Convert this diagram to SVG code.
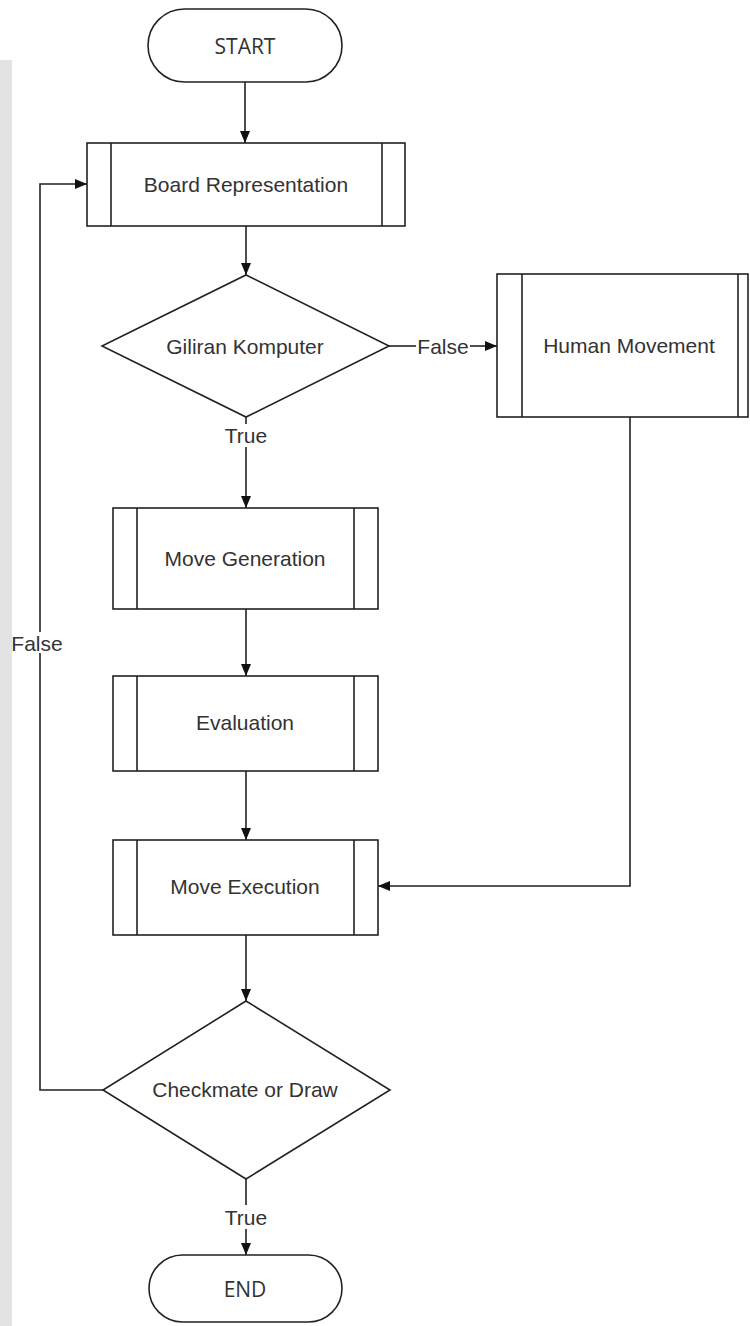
<svg xmlns="http://www.w3.org/2000/svg" width="750" height="1326" viewBox="0 0 750 1326">
<style>
.shape{fill:#fff;stroke:#222;stroke-width:1.6}
.line{fill:none;stroke:#222;stroke-width:1.6}
.t{font-family:"Liberation Sans",Arial,sans-serif;font-size:21px;fill:#333;text-anchor:middle;dominant-baseline:central}
.term{font-family:"Open Sans","DejaVu Sans",sans-serif;font-size:21px;font-weight:500;fill:#333;text-anchor:middle;dominant-baseline:central}
.lbl{font-family:"Liberation Sans",Arial,sans-serif;font-size:21px;fill:#333;text-anchor:middle;dominant-baseline:central}
</style>
<defs>
<marker id="arr" markerUnits="userSpaceOnUse" markerWidth="12" markerHeight="10" refX="12" refY="5" orient="auto">
<path d="M0,0 L12,5 L0,10 Z" fill="#111"/>
</marker>
</defs>
<rect x="0" y="0" width="750" height="1326" fill="#fff"/>
<rect x="0" y="60" width="12" height="1266" fill="#e3e3e3"/>
<g id="connectors">
<line class="line" x1="245" y1="82" x2="245" y2="143" marker-end="url(#arr)"/>
<line class="line" x1="246" y1="226" x2="246" y2="275" marker-end="url(#arr)"/>
<line class="line" x1="389" y1="346" x2="416" y2="346"/>
<text class="lbl" x="443" y="346">False</text>
<line class="line" x1="470" y1="346" x2="497" y2="346" marker-end="url(#arr)"/>
<line class="line" x1="246" y1="417" x2="246" y2="424"/>
<text class="lbl" x="246" y="435">True</text>
<line class="line" x1="246" y1="447" x2="246" y2="508" marker-end="url(#arr)"/>
<line class="line" x1="246" y1="609" x2="246" y2="676" marker-end="url(#arr)"/>
<line class="line" x1="246" y1="771" x2="246" y2="840" marker-end="url(#arr)"/>
<polyline class="line" points="630,417 630,886 378,886" marker-end="url(#arr)"/>
<line class="line" x1="246" y1="935" x2="246" y2="1001" marker-end="url(#arr)"/>
<polyline class="line" points="103,1090 40,1090 40,653"/>
<text class="lbl" x="37" y="643">False</text>
<polyline class="line" points="40,632 40,184 87,184" marker-end="url(#arr)"/>
<line class="line" x1="246" y1="1179" x2="246" y2="1205"/>
<text class="lbl" x="246" y="1217">True</text>
<line class="line" x1="246" y1="1229" x2="246" y2="1255" marker-end="url(#arr)"/>
</g>
<g id="start">
<rect class="shape" x="148" y="9" width="194" height="73" rx="36.5"/>
<text class="term" x="245" y="46">START</text>
</g>
<g id="board">
<rect class="shape" x="87" y="143" width="318" height="83"/>
<line class="line" x1="111" y1="143" x2="111" y2="226"/>
<line class="line" x1="382" y1="143" x2="382" y2="226"/>
<text class="t" x="246" y="184">Board Representation</text>
</g>
<g id="giliran">
<polygon class="shape" points="246,275 389,346 246,417 102,346"/>
<text class="t" x="245" y="346">Giliran Komputer</text>
</g>
<g id="human">
<rect class="shape" x="497" y="274" width="251" height="143"/>
<line class="line" x1="522" y1="274" x2="522" y2="417"/>
<line class="line" x1="738" y1="274" x2="738" y2="417"/>
<text class="t" x="629" y="345">Human Movement</text>
</g>
<g id="movegen">
<rect class="shape" x="113" y="508" width="265" height="101"/>
<line class="line" x1="137" y1="508" x2="137" y2="609"/>
<line class="line" x1="354" y1="508" x2="354" y2="609"/>
<text class="t" x="245" y="558">Move Generation</text>
</g>
<g id="evaluation">
<rect class="shape" x="113" y="676" width="265" height="95"/>
<line class="line" x1="137" y1="676" x2="137" y2="771"/>
<line class="line" x1="354" y1="676" x2="354" y2="771"/>
<text class="t" x="245" y="722">Evaluation</text>
</g>
<g id="moveexec">
<rect class="shape" x="113" y="840" width="265" height="95"/>
<line class="line" x1="137" y1="840" x2="137" y2="935"/>
<line class="line" x1="354" y1="840" x2="354" y2="935"/>
<text class="t" x="245" y="886">Move Execution</text>
</g>
<g id="checkmate">
<polygon class="shape" points="246,1001 390,1090 246,1179 103,1090"/>
<text class="t" x="245" y="1089">Checkmate or Draw</text>
</g>
<g id="end">
<rect class="shape" x="149" y="1255" width="193" height="67" rx="33.5"/>
<text class="term" x="245" y="1289">END</text>
</g>
</svg>
